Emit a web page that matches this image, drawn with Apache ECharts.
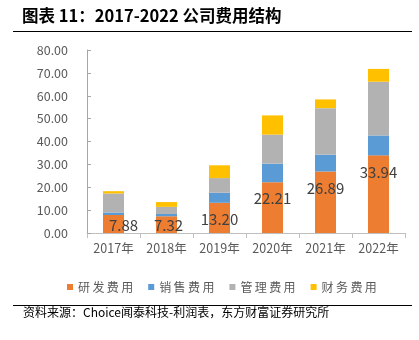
<!DOCTYPE html>
<html><head><meta charset="utf-8">
<script src="https://cdn.jsdelivr.net/npm/echarts@6/dist/echarts.min.js"></script>
<style>html,body{margin:0;padding:0;background:#fff;}#c{width:419px;height:340px;}</style>
</head><body><div id="c"></div>
<script>
const categories = ['2017年','2018年','2019年','2020年','2021年','2022年'];
const rdExpense = [7.88, 7.32, 13.20, 22.21, 26.89, 33.94];
const salesExpense = [1.1, 1.0, 4.4, 8.1, 7.3, 8.7];
const adminExpense = [8.3, 3.1, 6.4, 12.7, 20.4, 23.5];
const financeExpense = [1.0, 2.1, 5.6, 8.4, 3.8, 5.6];
const seriesNames = ['研发费用','销售费用','管理费用','财务费用'];
const yTicks = [0, 10, 20, 30, 40, 50, 60, 70, 80];

const chart = echarts.init(document.getElementById('c'), null, {renderer:'canvas'});
const font = 'Noto Sans CJK SC';
const rdData = rdExpense.map((v, i) => {
  const d = {value: v};
  if (i === 0) d.label = {position: 'insideBottom', distance: 0, offset: [10, 0]};
  if (i === 1) d.label = {position: 'insideBottom', distance: 0, offset: [2, 0]};
  return d;
});
chart.setOption({
  animation: false,
  textStyle: {fontFamily: font},
  graphic: [
    {type:'text', left: 22, top: 7, style:{text:'图表 11：2017-2022 公司费用结构', font:'bold 16.5px "Noto Sans CJK SC"', fill:'#000'}},
    {type:'line', shape:{x1:13, y1:31.5, x2:412, y2:31.5}, style:{stroke:'#000', lineWidth:1}},
    {type:'line', shape:{x1:13, y1:305.5, x2:412, y2:305.5}, style:{stroke:'#000', lineWidth:1}},
    {type:'text', left: 23, top: 306, style:{text:'资料来源：Choice闻泰科技-利润表，东方财富证券研究所', font:'12px "Noto Sans CJK SC"', fill:'#000'}}
  ],
  legend: {
    data: seriesNames,
    top: 276,
    left: 62,
    itemWidth: 6, itemHeight: 6, itemGap: 15,
    icon: 'rect',
    textStyle: {fontSize: 12, color: '#595959', fontFamily: font},
    formatter: n => n.split('').join('\u2009')
  },
  grid: {left: 87, right: 14, top: 50, bottom: 107, containLabel: false},
  xAxis: {
    type: 'category', data: categories,
    axisLine: {lineStyle: {color: '#bfbfbf'}},
    axisTick: {show: true, length: 5, lineStyle: {color: '#bfbfbf'}},
    axisLabel: {color: '#595959', fontSize: 12.5, margin: 9, interval: 0, fontFamily: font}
  },
  yAxis: {
    type: 'value', min: yTicks[0], max: yTicks[yTicks.length-1], interval: 10,
    splitLine: {show: false},
    axisLine: {show: true, lineStyle: {color: '#a6a6a6'}},
    axisTick: {show: true, inside: true, length: 4, lineStyle: {color: '#a6a6a6'}},
    axisLabel: {color: '#595959', fontSize: 12.5, margin: 19, formatter: v => v.toFixed(2), fontFamily: font}
  },
  series: [
    {name: seriesNames[0], type: 'bar', stack: 'a', data: rdData, barWidth: 21,
     itemStyle: {color: '#ED7D31'},
     label: {show: true, position: 'insideTop', distance: 9, color: '#404040', fontSize: 15, fontFamily: font, formatter: p => p.value.toFixed(2)}},
    {name: seriesNames[1], type: 'bar', stack: 'a', data: salesExpense, itemStyle: {color: '#5B9BD5'}},
    {name: seriesNames[2], type: 'bar', stack: 'a', data: adminExpense, itemStyle: {color: '#B2B2B2'}},
    {name: seriesNames[3], type: 'bar', stack: 'a', data: financeExpense, itemStyle: {color: '#FFC000'}}
  ]
});
</script></body></html>
